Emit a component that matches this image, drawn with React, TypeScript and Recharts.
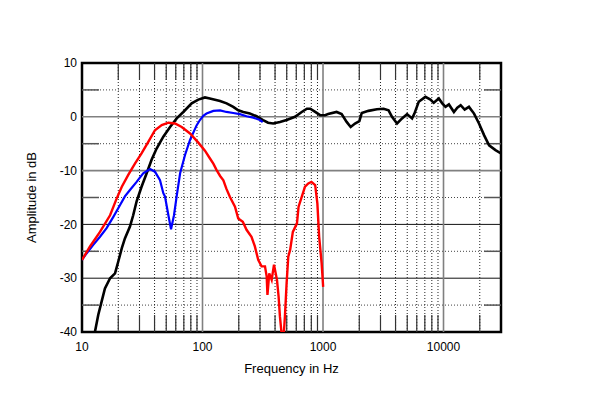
import {
  LineChart,
  Line,
  XAxis,
  YAxis,
  ReferenceLine,
  ReferenceArea,
} from "recharts";

// frequency (Hz), amplitude (dB)
const blackCurve: [number, number][] = [
  [12.8, -40], [13.65, -36.8], [14.56, -34.3], [15.5, -31.9], [17.1, -30], [18.8, -29.1],
  [20, -26.9], [21.4, -24.4], [22.7, -22.6], [25, -20.4], [26.6, -18.3], [28.4, -15.7],
  [31.2, -13], [34.4, -10.5], [37.8, -8], [41.6, -5.9], [47.3, -3.7], [53.8, -1.9],
  [61.1, -0.3], [69.3, 0.9], [81.3, 2.5], [92.3, 3.2], [104.8, 3.6], [115, 3.4],
  [139.8, 2.95], [158.5, 2.5], [180, 1.85], [198, 1.2], [218, 0.9], [247, 0.6],
  [281, 0.1], [318, -0.6], [350, -1.1], [386, -1.25], [439, -0.95], [499, -0.6],
  [586, 0], [666, 0.9], [735, 1.5], [784, 1.5], [861, 0.9], [946, 0.3], [1040, 0.3],
  [1102, 0.5], [1297, 0.9], [1428, 0.5], [1571, -0.95], [1697, -1.9], [1844, -1.25],
  [2003, -0.8], [2096, 0.7], [2383, 1.1], [2800, 1.4], [3181, 1.5], [3500, 1.2],
  [3738, 0], [4116, -1.25], [4529, -0.3], [4985, 0.5], [5486, -0.3], [5735, 0.6],
  [6226, 2.8], [7080, 3.7], [7791, 3.2], [8300, 2.6], [9140, 3.4], [9760, 2.5],
  [10400, 1.85], [11090, 2.3], [12200, 0.9], [13020, 1.7], [13880, 2.15], [14980, 1.35],
  [16260, 1.85], [17920, 0.6], [19700, -1.25], [21700, -3.4], [23900, -5.3],
  [27000, -6.2], [30000, -6.8],
];

const blueCurve: [number, number][] = [
  [10, -26.6], [10.9, -25.4], [12.4, -23.8], [14.1, -22.3], [16, -20.7], [18.2, -18.6],
  [20.7, -16.4], [22.7, -14.8], [25, -13.6], [28.4, -12.1], [32.2, -10.5], [36.7, -9.7],
  [40.3, -10.2], [44.4, -11.8], [47.3, -14.2], [48.8, -14.8], [52.1, -18.3], [54.8, -20.9],
  [58, -18.3], [61.1, -14.7], [65.2, -10.5], [71.6, -7.1], [78.8, -4.3], [89.3, -1.6],
  [95.2, -0.6], [101.5, 0.2], [108, 0.6], [123, 1.1], [140, 1.2], [158, 0.9], [180, 0.7],
  [204, 0.5], [232, 0.1], [264, -0.15], [300, -0.6], [316, -1.0],
];

const redCurve: [number, number][] = [
  [10, -26.6], [11.65, -24.1], [14.1, -21.4], [17.1, -18.3], [19.3, -15.3], [21.4, -13],
  [24.2, -10.8], [27.5, -8.7], [31.2, -6.8], [35.5, -4.65], [40.3, -2.5], [45.9, -1.55],
  [52.1, -1.1], [59.1, -1.25], [67.2, -1.9], [78.8, -3.1], [92.3, -4.8], [104.8, -6.3],
  [115, -7.7], [123, -8.7], [131, -9.9], [140, -11], [149, -11.8], [158, -13.4],
  [169, -14.9], [186, -16.7], [198, -18.9], [216, -19.5], [232, -21], [255, -22.3],
  [272, -24.1], [290, -26.6], [309, -27.8], [330, -27.8], [341, -29.7], [346, -33.1],
  [358, -29.1], [375, -30.3], [392, -27.5], [415, -30.3], [428, -33.4], [439, -37.1],
  [452, -40], [474, -40], [483, -37.1], [499, -30.9], [515, -26], [534, -24.7],
  [562, -21.4], [608, -19.8], [627, -16.7], [666, -14.9], [709, -13], [755, -12.4],
  [802, -12.1], [861, -12.7], [898, -16.1], [929, -22.3], [974, -27.2], [1003, -31.6],
];

const xTicks = [10, 100, 1000, 10000];
const yTicks = [10, 0, -10, -20, -30, -40];
const decadeLines = [100, 1000, 10000];
const minorFreqs = [
  20, 30, 40, 50, 60, 70, 80, 90,
  200, 300, 400, 500, 600, 700, 800, 900,
  2000, 3000, 4000, 5000, 6000, 7000, 8000, 9000,
  20000,
];
const grayLevels = [0, -10];
const blackLevels = [-20, -30];
const dottedLevels = [5, -5, -15, -25, -35];

const X_MIN = 10;
const X_MAX = 30000;
const Y_MIN = -40;
const Y_MAX = 10;
const TICK_DB = 3.15; // ~17px inward tick
const TICK_F = 1.384; // ~17px inward tick on log axis

const toPoints = (arr: [number, number][]) => arr.map(([f, db]) => ({ f, db }));

export default function App() {
  return (
    <div style={{ position: "absolute", left: 0, top: 0, fontFamily: "'Liberation Sans', Arial, sans-serif" }}>
      <LineChart width={600} height={397} margin={{ top: 63, right: 99, left: 0, bottom: 0 }}>
        <XAxis
          dataKey="f"
          type="number"
          scale="log"
          domain={[X_MIN, X_MAX]}
          allowDataOverflow
          ticks={xTicks}
          tickLine={false}
          axisLine={false}
          tickSize={0}
          tickMargin={10}
          height={65}
          tick={{ fill: "#000", fontSize: 12 }}
          label={{ value: "Frequency  in Hz", position: "insideBottom", offset: 24, fill: "#000", fontSize: 13, style: { whiteSpace: "pre" } }}
        />
        <YAxis
          type="number"
          domain={[Y_MIN, Y_MAX]}
          allowDataOverflow
          ticks={yTicks}
          tickLine={false}
          axisLine={false}
          tickSize={0}
          tickMargin={5}
          width={82}
          tick={{ fill: "#000", fontSize: 12 }}
          label={{ value: "Amplitude in dB", angle: -90, position: "insideLeft", offset: 31, fill: "#000", fontSize: 13, style: { textAnchor: "middle" } }}
        />

        {dottedLevels.map((v) => (
          <ReferenceLine key={"d" + v} y={v} stroke="#444" strokeDasharray="1 2" />
        ))}
        {minorFreqs.map((f) => (
          <ReferenceLine key={"m" + f} x={f} stroke="#222" strokeDasharray="1 2" />
        ))}
        {minorFreqs.map((f) => (
          <ReferenceLine key={"mt" + f} segment={[{ x: f, y: Y_MAX }, { x: f, y: Y_MAX - TICK_DB }]} stroke="#333" strokeWidth={1.2} />
        ))}
        {minorFreqs.map((f) => (
          <ReferenceLine key={"mb" + f} segment={[{ x: f, y: Y_MIN }, { x: f, y: Y_MIN + TICK_DB }]} stroke="#333" strokeWidth={1.2} />
        ))}
        {dottedLevels.map((v) => (
          <ReferenceLine key={"dl" + v} segment={[{ x: X_MIN, y: v }, { x: X_MIN * TICK_F, y: v }]} stroke="#555" strokeWidth={1.5} />
        ))}
        {dottedLevels.map((v) => (
          <ReferenceLine key={"dr" + v} segment={[{ x: X_MAX / TICK_F, y: v }, { x: X_MAX, y: v }]} stroke="#555" strokeWidth={1.5} />
        ))}
        {grayLevels.map((v) => (
          <ReferenceLine key={"g" + v} y={v} stroke="#808080" strokeWidth={1.6} />
        ))}
        {blackLevels.map((v) => (
          <ReferenceLine key={"b" + v} y={v} stroke="#111" strokeWidth={1} />
        ))}
        {decadeLines.map((f) => (
          <ReferenceLine key={"x" + f} x={f} stroke="#808080" strokeWidth={1.6} />
        ))}

        <Line data={toPoints(blackCurve)} dataKey="db" stroke="#000" strokeWidth={2.6} dot={false} isAnimationActive={false} />
        <Line data={toPoints(blueCurve)} dataKey="db" stroke="#0000ff" strokeWidth={2.2} dot={false} isAnimationActive={false} />
        <Line data={toPoints(redCurve)} dataKey="db" stroke="#ff0000" strokeWidth={2.4} dot={false} isAnimationActive={false} />

        <ReferenceArea x1={X_MIN} x2={X_MAX} y1={Y_MIN} y2={Y_MAX} fill="none" stroke="#000" strokeWidth={2.5} fillOpacity={0} />
      </LineChart>
    </div>
  );
}
